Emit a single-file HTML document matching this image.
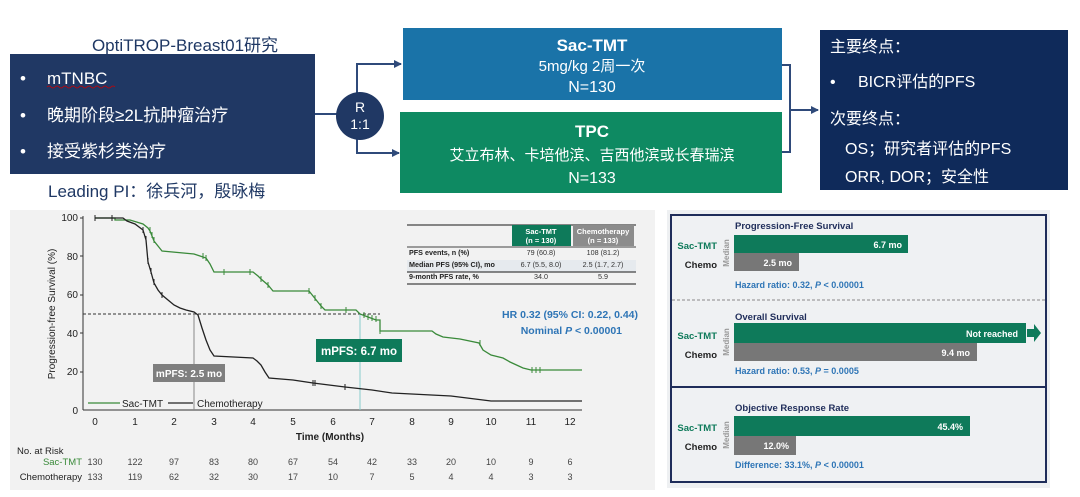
<!DOCTYPE html>
<html><head><meta charset="utf-8"><style>
html,body{margin:0;padding:0;background:#fff;}
svg{display:block;}
text{font-family:"Liberation Sans","Noto Sans CJK SC",sans-serif;}
</style></head><body>
<svg width="1080" height="497" viewBox="0 0 1080 497" xmlns="http://www.w3.org/2000/svg">
<defs>
<marker id="ah" markerWidth="8" markerHeight="8" refX="7" refY="4" orient="auto" markerUnits="userSpaceOnUse"><path d="M0,0 L8,4 L0,8 z" fill="#2f4a7a"/></marker>
</defs>
<text x="185" y="51" font-size="17" fill="#1f3864" text-anchor="middle">OptiTROP-Breast01研究</text>
<rect x="10" y="54" width="305" height="120" fill="#203864"/>
<g fill="#fff" font-size="17">
<text x="20" y="84">•</text><text x="47" y="84">mTNBC</text>
<text x="20" y="121">•</text><text x="47" y="121">晚期阶段≥2L抗肿瘤治疗</text>
<text x="20" y="157">•</text><text x="47" y="157">接受紫杉类治疗</text>
</g>
<path d="M47,87 q2,-2 4,0 t4,0 t4,0 t4,0 t4,0 t4,0 t4,0 t4,0 t4,0 t4,0 t4,0 t4,0 t4,0 t4,0 t4,0 t4,0 t4,0" stroke="#c00" stroke-width="0.8" fill="none"/>
<text x="48" y="197" font-size="17" fill="#1f3864">Leading PI：徐兵河，殷咏梅</text>
<line x1="315" y1="114" x2="340" y2="114" stroke="#2f4a7a" stroke-width="2"/>
<path d="M357,95 V64 H401" stroke="#2f4a7a" stroke-width="2" fill="none" marker-end="url(#ah)"/>
<path d="M357,138 V153 H399" stroke="#2f4a7a" stroke-width="2" fill="none" marker-end="url(#ah)"/>
<circle cx="360" cy="116" r="24" fill="#203864"/>
<text x="360" y="112" font-size="14" fill="#fff" text-anchor="middle">R</text>
<text x="360" y="129" font-size="14" fill="#fff" text-anchor="middle">1:1</text>
<rect x="403" y="28" width="379" height="72" fill="#1a73a8"/>
<text x="592" y="51" font-size="17" font-weight="bold" fill="#fff" text-anchor="middle">Sac-TMT</text>
<text x="592" y="71" font-size="15" fill="#fff" text-anchor="middle">5mg/kg 2周一次</text>
<text x="592" y="92" font-size="16" fill="#fff" text-anchor="middle">N=130</text>
<rect x="400" y="112" width="382" height="81" fill="#0e8a62"/>
<text x="592" y="137" font-size="17" font-weight="bold" fill="#fff" text-anchor="middle">TPC</text>
<text x="592" y="160" font-size="15" fill="#fff" text-anchor="middle">艾立布林、卡培他滨、吉西他滨或长春瑞滨</text>
<text x="592" y="183" font-size="16" fill="#fff" text-anchor="middle">N=133</text>
<path d="M782,65 H790 V152 H782" stroke="#2f4a7a" stroke-width="2" fill="none"/>
<line x1="790" y1="110" x2="818" y2="110" stroke="#2f4a7a" stroke-width="2" marker-end="url(#ah)"/>
<rect x="820" y="30" width="248" height="160" fill="#0f2a5a"/>
<g fill="#fff" font-size="16">
<text x="830" y="52">主要终点：</text>
<text x="830" y="87">•</text><text x="858" y="87">BICR评估的PFS</text>
<text x="830" y="124">次要终点：</text>
<text x="845" y="154">OS；研究者评估的PFS</text>
<text x="845" y="182">ORR, DOR；安全性</text>
</g>
<rect x="10" y="210" width="645" height="280" fill="#f2f2f2"/>
<g stroke="#333" stroke-width="1" fill="none">
<line x1="83" y1="216" x2="83" y2="410"/>
<line x1="83" y1="410" x2="582" y2="410"/>
</g>
<g font-size="10" fill="#222" text-anchor="end">
<text x="78" y="221">100</text><text x="78" y="260">80</text><text x="78" y="298">60</text><text x="78" y="337">40</text><text x="78" y="375">20</text><text x="78" y="414">0</text>
</g>
<g stroke="#333"><line x1="80" y1="218" x2="83" y2="218"/><line x1="80" y1="256" x2="83" y2="256"/><line x1="80" y1="295" x2="83" y2="295"/><line x1="80" y1="333" x2="83" y2="333"/><line x1="80" y1="372" x2="83" y2="372"/></g>
<text transform="translate(55,314) rotate(-90)" font-size="10" fill="#222" text-anchor="middle">Progression-free Survival (%)</text>
<g font-size="10" fill="#222" text-anchor="middle">
<text x="95" y="425">0</text><text x="135" y="425">1</text><text x="174" y="425">2</text><text x="214" y="425">3</text><text x="253" y="425">4</text><text x="293" y="425">5</text><text x="333" y="425">6</text><text x="372" y="425">7</text><text x="412" y="425">8</text><text x="451" y="425">9</text><text x="491" y="425">10</text><text x="531" y="425">11</text><text x="570" y="425">12</text>
</g>
<text x="330" y="440" font-size="10" font-weight="bold" fill="#222" text-anchor="middle">Time (Months)</text>
<line x1="83" y1="314" x2="380" y2="314" stroke="#333" stroke-dasharray="3,2"/>
<line x1="194" y1="314" x2="194" y2="410" stroke="#888"/>
<line x1="360" y1="314" x2="360" y2="410" stroke="#8cc"/>
<polyline fill="none" stroke="#3a8a3a" stroke-width="1.3" points="95,218 115,218 115,220 130,220 143,224 148,228 150,231 152,236 154,241 158,246 162,251 194,254 200,256 206,258 210,264 214,272 253,272 258,276 261,279 268,285 273,291 309,291 313,296 317,301 321,306 325,310 356,310 360,314 368,317 376,320 380,320 380,331 432,331 436,334 443,337 460,339 479,343 483,350 491,355 503,358 510,362 523,368 531,370 582,370"/>
<polyline fill="none" stroke="#222" stroke-width="1.3" points="95,218 123,218 127,221 135,224 143,230 146,240 148,262 151,272 154,283 158,290 162,295 168,300 174,305 180,308 186,310 194,312 198,315 202,328 206,340 210,350 214,356 253,358 257,361 261,365 265,372 269,378 293,380 313,383 345,387 372,390 392,393 451,396 491,401 582,401"/>
<g stroke="#3a8a3a" stroke-width="1">
<path d="M150,227v6M152,232v6M154,237v6M203,253v6M206,255v6M224,269v6M250,269v6M261,276v6M268,282v6M309,288v6M315,295v6M321,303v6M346,307v6M364,312v6M368,314v6M372,315v6M376,316v6M380,328v6M480,340v6M532,367v6M536,367v6M540,367v6"/>
</g>
<g stroke="#222" stroke-width="1">
<path d="M95,215v6M112,215v6M143,227v6M146,236v6M148,258v6M151,268v6M154,279v6M162,292v6M313,380v6M315,380v6M345,384v6"/>
</g>
<line x1="88" y1="403" x2="120" y2="403" stroke="#3a8a3a" stroke-width="1.3"/>
<text x="122" y="407" font-size="10" fill="#222">Sac-TMT</text>
<line x1="168" y1="403" x2="193" y2="403" stroke="#222" stroke-width="1.3"/>
<text x="197" y="407" font-size="10" fill="#222">Chemotherapy</text>
<rect x="153" y="364" width="72" height="18" fill="#7f7f7f"/>
<text x="189" y="377" font-size="10" font-weight="bold" fill="#fff" text-anchor="middle">mPFS: 2.5 mo</text>
<rect x="316" y="339" width="86" height="23" fill="#0e7a5a"/>
<text x="359" y="355" font-size="11.5" font-weight="bold" fill="#fff" text-anchor="middle">mPFS: 6.7 mo</text>
<text x="17" y="454" font-size="9.5" fill="#222">No. at Risk</text>
<text x="82" y="465" font-size="9.5" fill="#3a8a3a" text-anchor="end">Sac-TMT</text>
<text x="82" y="480" font-size="9.5" fill="#222" text-anchor="end">Chemotherapy</text>
<g font-size="9" fill="#444" text-anchor="middle">
<text x="95" y="465">130</text><text x="135" y="465">122</text><text x="174" y="465">97</text><text x="214" y="465">83</text><text x="253" y="465">80</text><text x="293" y="465">67</text><text x="333" y="465">54</text><text x="372" y="465">42</text><text x="412" y="465">33</text><text x="451" y="465">20</text><text x="491" y="465">10</text><text x="531" y="465">9</text><text x="570" y="465">6</text>
<text x="95" y="480">133</text><text x="135" y="480">119</text><text x="174" y="480">62</text><text x="214" y="480">32</text><text x="253" y="480">30</text><text x="293" y="480">17</text><text x="333" y="480">10</text><text x="372" y="480">7</text><text x="412" y="480">5</text><text x="451" y="480">4</text><text x="491" y="480">4</text><text x="531" y="480">3</text><text x="570" y="480">3</text>
</g>
<line x1="407" y1="225" x2="636" y2="225" stroke="#444" stroke-width="1.2"/>
<rect x="512" y="225" width="59" height="21" fill="#0e7a5a"/>
<rect x="573" y="225" width="61" height="21" fill="#8c8c8c"/>
<g font-size="7.5" font-weight="bold" fill="#fff" text-anchor="middle">
<text x="541" y="234">Sac-TMT</text><text x="541" y="243">(n = 130)</text>
<text x="603" y="234">Chemotherapy</text><text x="603" y="243">(n = 133)</text>
</g>
<rect x="407" y="260" width="229" height="12" fill="#e6eaee"/>
<line x1="407" y1="247" x2="636" y2="247" stroke="#444"/>
<line x1="407" y1="272" x2="636" y2="272" stroke="#444" stroke-width="1.2"/>
<g font-size="7.2" fill="#222">
<text x="409" y="255" font-weight="bold">PFS events, n (%)</text>
<text x="409" y="267" font-weight="bold">Median PFS (95% CI), mo</text>
<text x="409" y="279" font-weight="bold">9-month PFS rate, %</text>
</g>
<g font-size="7.2" fill="#333" text-anchor="middle">
<text x="541" y="255">79 (60.8)</text><text x="603" y="255">108 (81.2)</text>
<text x="541" y="267">6.7 (5.5, 8.0)</text><text x="603" y="267">2.5 (1.7, 2.7)</text>
<text x="541" y="279">34.0</text><text x="603" y="279">5.9</text>
</g>
<line x1="407" y1="284" x2="636" y2="284" stroke="#444" stroke-width="1.2"/>
<text x="638" y="318" font-size="10.5" font-weight="bold" fill="#2e75b6" text-anchor="end">HR 0.32 (95% CI: 0.22, 0.44)</text>
<text x="622" y="334" font-size="10.5" font-weight="bold" fill="#2e75b6" text-anchor="end">Nominal <tspan font-style="italic">P</tspan> &lt; 0.00001</text>
<rect x="667" y="210" width="383" height="278" fill="#eef0f2"/>
<rect x="671" y="215" width="375" height="267" fill="#eff1f3" stroke="#1f2d5a" stroke-width="2"/>
<line x1="672" y1="300" x2="1045" y2="300" stroke="#888" stroke-dasharray="3,2"/>
<line x1="672" y1="387" x2="1045" y2="387" stroke="#1f2d5a" stroke-width="2"/>
<g font-size="9.5" font-weight="bold" fill="#1f2d5a">
<text x="735" y="229">Progression-Free Survival</text>
<text x="735" y="320">Overall Survival</text>
<text x="735" y="411">Objective Response Rate</text>
</g>
<g font-size="9.5" font-weight="bold">
<text x="717" y="249" fill="#0e7a5a" text-anchor="end">Sac-TMT</text><text x="717" y="268" fill="#222" text-anchor="end">Chemo</text>
<text x="717" y="339" fill="#0e7a5a" text-anchor="end">Sac-TMT</text><text x="717" y="358" fill="#222" text-anchor="end">Chemo</text>
<text x="717" y="431" fill="#0e7a5a" text-anchor="end">Sac-TMT</text><text x="717" y="450" fill="#222" text-anchor="end">Chemo</text>
</g>
<g font-size="8" font-weight="bold" fill="#999" text-anchor="middle">
<text transform="translate(729,253) rotate(-90)">Median</text>
<text transform="translate(729,342) rotate(-90)">Median</text>
<text transform="translate(729,435) rotate(-90)">Median</text>
</g>
<rect x="734" y="235" width="174" height="18" fill="#0e7a5a"/>
<rect x="734" y="253" width="65" height="18" fill="#777"/>
<rect x="734" y="323" width="292" height="20" fill="#0e7a5a"/>
<path d="M1027,329 H1034 V324 L1041,333 L1034,342 V337 H1027 z" fill="#0e7a5a"/>
<rect x="734" y="343" width="243" height="18" fill="#777"/>
<rect x="734" y="416" width="236" height="20" fill="#0e7a5a"/>
<rect x="734" y="436" width="62" height="19" fill="#777"/>
<g font-size="9" font-weight="bold" fill="#fff" text-anchor="end">
<text x="902" y="248">6.7 mo</text><text x="792" y="266">2.5 mo</text>
<text x="1018" y="337">Not reached</text><text x="970" y="356">9.4 mo</text>
<text x="963" y="430">45.4%</text><text x="789" y="449">12.0%</text>
</g>
<g font-size="9" font-weight="bold" fill="#2e75b6">
<text x="735" y="288">Hazard ratio: 0.32, <tspan font-style="italic">P</tspan> &lt; 0.00001</text>
<text x="735" y="374">Hazard ratio: 0.53, <tspan font-style="italic">P</tspan> = 0.0005</text>
<text x="735" y="468">Difference: 33.1%, <tspan font-style="italic">P</tspan> &lt; 0.00001</text>
</g>
</svg>
</body></html>
